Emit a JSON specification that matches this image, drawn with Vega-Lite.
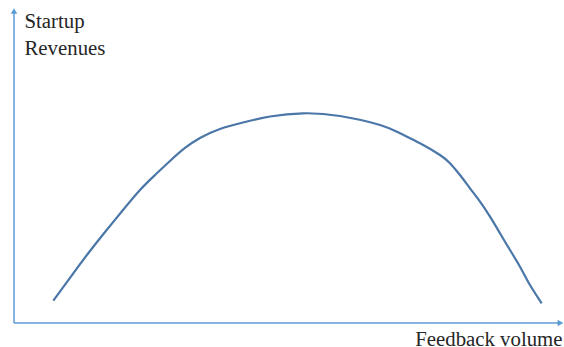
{
  "$schema": "https://vega.github.io/schema/vega-lite/v6.json",
  "width": 550,
  "height": 315,
  "autosize": {"type": "none"},
  "padding": {"left": 14, "top": 8, "right": 0, "bottom": 24},
  "background": "white",
  "config": {
    "view": {"stroke": null},
    "axis": {
      "domain": false, "ticks": false, "labels": false, "grid": false,
      "titleFont": "Liberation Serif", "titleFontSize": 20.8, "titleFontWeight": "normal", "titleColor": "#262626"
    }
  },
  "datasets": {
    "curve": [
      {"volume": 7.15, "revenue": 7.08},
      {"volume": 10.78, "revenue": 15.78},
      {"volume": 13.82, "revenue": 22.86},
      {"volume": 16.85, "revenue": 29.52},
      {"volume": 19.82, "revenue": 35.87},
      {"volume": 22.91, "revenue": 42.22},
      {"volume": 25.64, "revenue": 46.98},
      {"volume": 28.36, "revenue": 51.43},
      {"volume": 31.09, "revenue": 55.56},
      {"volume": 33.82, "revenue": 58.73},
      {"volume": 37.45, "revenue": 61.59},
      {"volume": 42.0, "revenue": 63.81},
      {"volume": 46.55, "revenue": 65.56},
      {"volume": 52.55, "revenue": 66.57},
      {"volume": 59.27, "revenue": 65.71},
      {"volume": 66.55, "revenue": 62.86},
      {"volume": 70.18, "revenue": 60.22},
      {"volume": 73.82, "revenue": 57.05},
      {"volume": 77.45, "revenue": 53.33},
      {"volume": 79.27, "revenue": 50.7},
      {"volume": 81.09, "revenue": 46.98},
      {"volume": 82.91, "revenue": 42.76},
      {"volume": 84.73, "revenue": 38.51},
      {"volume": 86.55, "revenue": 33.75},
      {"volume": 88.36, "revenue": 28.48},
      {"volume": 90.18, "revenue": 23.17},
      {"volume": 92.0, "revenue": 17.87},
      {"volume": 93.82, "revenue": 12.06},
      {"volume": 95.95, "revenue": 6.25}
    ],
    "one": [{"item": 1}]
  },
  "layer": [
    {
      "data": {"name": "curve"},
      "mark": {"type": "line", "interpolate": "natural", "color": "#4a76a8", "strokeWidth": 2.2},
      "encoding": {
        "x": {
          "field": "volume", "type": "quantitative",
          "scale": {"domain": [0, 100], "nice": false, "zero": false},
          "axis": {
            "title": "Feedback volume",
            "titleAlign": "right", "titleAnchor": null, "titleBaseline": "alphabetic",
            "titleX": 548, "titleY": 22
          }
        },
        "y": {
          "field": "revenue", "type": "quantitative",
          "scale": {"domain": [0, 100], "nice": false, "zero": false},
          "axis": {
            "title": ["Startup", "Revenues"],
            "titleAngle": 0, "titleAlign": "left", "titleBaseline": "alphabetic",
            "titleX": 10, "titleY": 19.5, "titleLineHeight": 26.5
          }
        }
      }
    },
    {
      "data": {"name": "one"},
      "mark": {"type": "rule", "color": "#5b9bd5", "strokeWidth": 1.5},
      "encoding": {
        "x": {"datum": 0, "type": "quantitative"},
        "y": {"datum": 0, "type": "quantitative"},
        "y2": {"datum": 99}
      }
    },
    {
      "data": {"name": "one"},
      "mark": {"type": "rule", "color": "#5b9bd5", "strokeWidth": 1.5},
      "encoding": {
        "x": {"datum": 0, "type": "quantitative"},
        "x2": {"datum": 99.2},
        "y": {"datum": 0, "type": "quantitative"}
      }
    },
    {
      "data": {"name": "one"},
      "mark": {"type": "point", "shape": "triangle-up", "filled": true, "size": 42, "color": "#5b9bd5", "opacity": 1},
      "encoding": {
        "x": {"datum": 0, "type": "quantitative"},
        "y": {"datum": 99.05, "type": "quantitative"}
      }
    },
    {
      "data": {"name": "one"},
      "mark": {"type": "point", "shape": "triangle-right", "filled": true, "size": 42, "color": "#5b9bd5", "opacity": 1},
      "encoding": {
        "x": {"datum": 99.35, "type": "quantitative"},
        "y": {"datum": 0, "type": "quantitative"}
      }
    }
  ]
}
